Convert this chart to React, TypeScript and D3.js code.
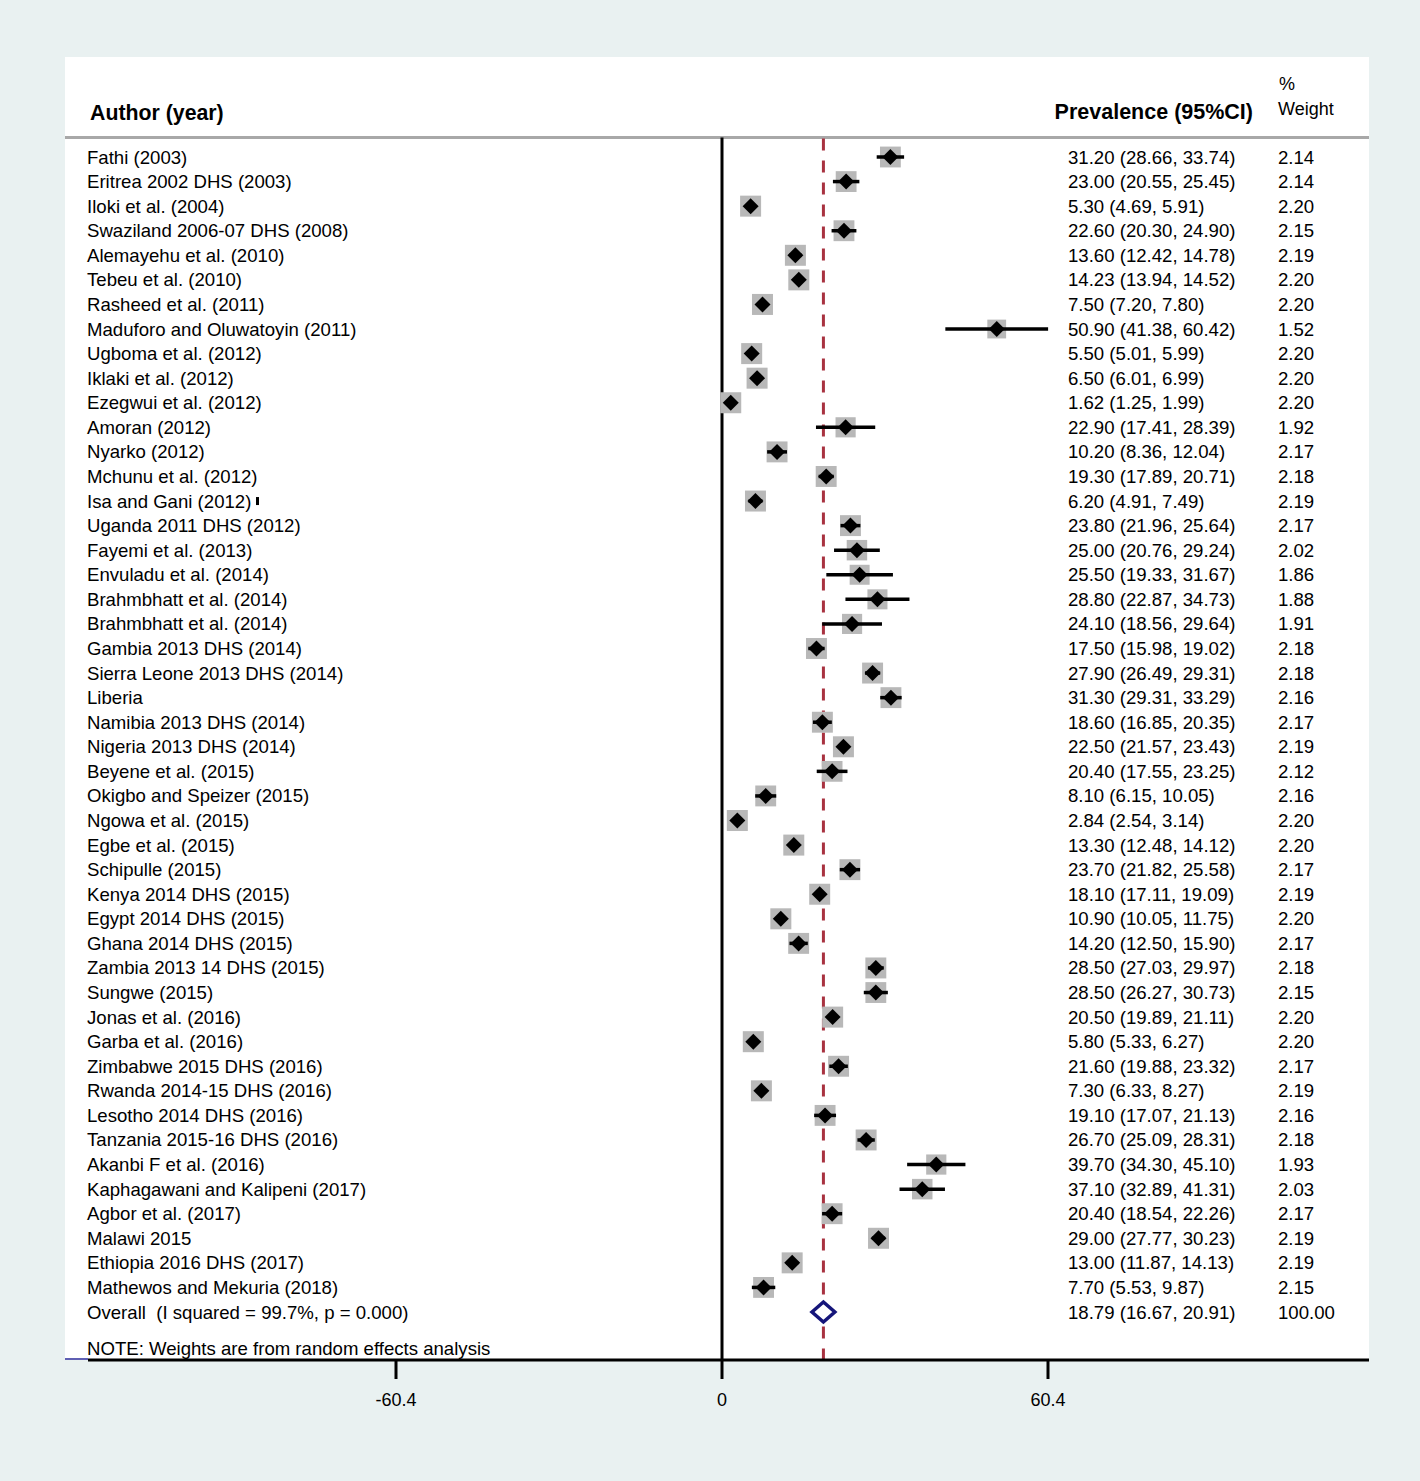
import React from "react";
import * as d3 from "d3";

const studies: string[] = [
  "Fathi (2003)", "Eritrea 2002 DHS (2003)", "Iloki et al. (2004)", "Swaziland 2006-07 DHS (2008)",
  "Alemayehu et al. (2010)", "Tebeu et al. (2010)", "Rasheed et al. (2011)", "Maduforo and Oluwatoyin (2011)",
  "Ugboma et al. (2012)", "Iklaki et al. (2012)", "Ezegwui et al. (2012)", "Amoran (2012)",
  "Nyarko (2012)", "Mchunu et al. (2012)", "Isa and Gani (2012)", "Uganda 2011 DHS (2012)",
  "Fayemi et al. (2013)", "Envuladu et al. (2014)", "Brahmbhatt et al. (2014)", "Brahmbhatt et al. (2014)",
  "Gambia 2013 DHS (2014)", "Sierra Leone 2013 DHS (2014)", "Liberia", "Namibia 2013 DHS (2014)",
  "Nigeria 2013 DHS (2014)", "Beyene et al. (2015)", "Okigbo and Speizer (2015)", "Ngowa et al. (2015)",
  "Egbe et al. (2015)", "Schipulle (2015)", "Kenya 2014 DHS (2015)", "Egypt 2014 DHS (2015)",
  "Ghana 2014 DHS (2015)", "Zambia 2013 14 DHS (2015)", "Sungwe (2015)", "Jonas et al. (2016)",
  "Garba et al. (2016)", "Zimbabwe 2015 DHS (2016)", "Rwanda 2014-15 DHS (2016)", "Lesotho 2014 DHS (2016)",
  "Tanzania 2015-16 DHS (2016)", "Akanbi F et al. (2016)", "Kaphagawani and Kalipeni (2017)", "Agbor et al. (2017)",
  "Malawi 2015", "Ethiopia 2016 DHS (2017)", "Mathewos and Mekuria (2018)",
];

const estimates: number[] = [
  31.2, 23.0, 5.3, 22.6, 13.6, 14.23, 7.5, 50.9, 5.5, 6.5, 1.62, 22.9, 10.2, 19.3, 6.2, 23.8,
  25.0, 25.5, 28.8, 24.1, 17.5, 27.9, 31.3, 18.6, 22.5, 20.4, 8.1, 2.84, 13.3, 23.7, 18.1, 10.9,
  14.2, 28.5, 28.5, 20.5, 5.8, 21.6, 7.3, 19.1, 26.7, 39.7, 37.1, 20.4, 29.0, 13.0, 7.7,
];
const lower: number[] = [
  28.66, 20.55, 4.69, 20.3, 12.42, 13.94, 7.2, 41.38, 5.01, 6.01, 1.25, 17.41, 8.36, 17.89, 4.91, 21.96,
  20.76, 19.33, 22.87, 18.56, 15.98, 26.49, 29.31, 16.85, 21.57, 17.55, 6.15, 2.54, 12.48, 21.82, 17.11, 10.05,
  12.5, 27.03, 26.27, 19.89, 5.33, 19.88, 6.33, 17.07, 25.09, 34.3, 32.89, 18.54, 27.77, 11.87, 5.53,
];
const upper: number[] = [
  33.74, 25.45, 5.91, 24.9, 14.78, 14.52, 7.8, 60.42, 5.99, 6.99, 1.99, 28.39, 12.04, 20.71, 7.49, 25.64,
  29.24, 31.67, 34.73, 29.64, 19.02, 29.31, 33.29, 20.35, 23.43, 23.25, 10.05, 3.14, 14.12, 25.58, 19.09, 11.75,
  15.9, 29.97, 30.73, 21.11, 6.27, 23.32, 8.27, 21.13, 28.31, 45.1, 41.31, 22.26, 30.23, 14.13, 9.87,
];
const weights: number[] = [
  2.14, 2.14, 2.2, 2.15, 2.19, 2.2, 2.2, 1.52, 2.2, 2.2, 2.2, 1.92, 2.17, 2.18, 2.19, 2.17,
  2.02, 1.86, 1.88, 1.91, 2.18, 2.18, 2.16, 2.17, 2.19, 2.12, 2.16, 2.2, 2.2, 2.17, 2.19, 2.2,
  2.17, 2.18, 2.15, 2.2, 2.2, 2.17, 2.19, 2.16, 2.18, 1.93, 2.03, 2.17, 2.19, 2.19, 2.15,
];

const overallLabel = "Overall  (I squared = 99.7%, p = 0.000)";
const overallEst = 18.79;
const overallLo = 16.67;
const overallHi = 20.91;
const overallWeight = 100.0;

const tickValues: number[] = [-60.4, 0, 60.4];

const W = 1420;
const H = 1481;
const FONT = "'Liberation Sans', Arial, Helvetica, sans-serif";

export default function App() {
  const x = d3.scaleLinear().domain([-60.4, 60.4]).range([396, 1048]);
  const nRows = studies.length + 1;
  const y = d3.scalePoint<number>().domain(d3.range(nRows)).range([157, 1312]);
  const boxSide = d3.scalePow().exponent(0.3).domain([0, 2.2]).range([0, 21]);
  const fmt = (v: number) => v.toFixed(2);

  const panelLeft = 65;
  const panelRight = 1369;
  const panelTop = 57;
  const axisY = 1360;
  const headerLineY = 137.5;
  const dm = 8;
  const fs = 18.6;

  const oy = y(studies.length)!;

  return (
    <div style={{ position: "absolute", left: 0, top: 0 }}>
      <svg width={W} height={H} style={{ display: "block" }} fontFamily={FONT}>
        <rect x={0} y={0} width={W} height={H} fill="#e9f1f1" />
        <rect x={panelLeft} y={panelTop} width={panelRight - panelLeft} height={axisY - panelTop} fill="#ffffff" />

        {/* header */}
        <text x={90} y={120} fontSize={21.3} fontWeight="bold" fill="#000">Author (year)</text>
        <text x={1253} y={119} fontSize={21.5} fontWeight="bold" fill="#000" textAnchor="end">Prevalence (95%CI)</text>
        <text x={1279} y={90} fontSize={18} fill="#000">%</text>
        <text x={1278} y={115} fontSize={18} fill="#000">Weight</text>
        <line x1={panelLeft} x2={panelRight} y1={headerLineY} y2={headerLineY} stroke="#a8a8a8" strokeWidth={3} />

        {/* zero line */}
        <line x1={x(0)} x2={x(0)} y1={headerLineY} y2={axisY} stroke="#000" strokeWidth={3} />
        {/* overall dashed line */}
        <line x1={x(overallEst)} x2={x(overallEst)} y1={headerLineY + 1} y2={axisY} stroke="#a83240" strokeWidth={3} strokeDasharray="12 10" />

        {studies.map((s, i) => {
          const cy = y(i)!;
          const cx = x(estimates[i]);
          const side = boxSide(weights[i]);
          return (
            <g key={i}>
              <text x={87} y={cy + 6.5} fontSize={fs} fill="#000">{s}</text>
              <rect x={cx - side / 2} y={cy - side / 2} width={side} height={side} fill="#b8b8b8" />
              <line x1={x(lower[i])} x2={x(upper[i])} y1={cy} y2={cy} stroke="#000" strokeWidth={3.5} />
              <path d={`M${cx - dm},${cy} L${cx},${cy - dm} L${cx + dm},${cy} L${cx},${cy + dm} Z`} fill="#000" />
              <text x={1068} y={cy + 6.5} fontSize={fs} fill="#000">
                {`${fmt(estimates[i])} (${fmt(lower[i])}, ${fmt(upper[i])})`}
              </text>
              <text x={1278} y={cy + 6.5} fontSize={fs} fill="#000">{fmt(weights[i])}</text>
            </g>
          );
        })}

        {/* small mark after Isa and Gani */}
        <rect x={256} y={y(14)! - 4} width={3} height={8} fill="#000" />

        {/* overall */}
        <text x={87} y={oy + 6.5} fontSize={fs} fill="#000" style={{ whiteSpace: "pre" }}>{overallLabel}</text>
        <path
          d={`M${x(overallLo)},${oy} L${x(overallEst)},${oy - 10} L${x(overallHi)},${oy} L${x(overallEst)},${oy + 10} Z`}
          fill="#ffffff"
          stroke="#15157a"
          strokeWidth={3.5}
        />
        <text x={1068} y={oy + 6.5} fontSize={fs} fill="#000">
          {`${fmt(overallEst)} (${fmt(overallLo)}, ${fmt(overallHi)})`}
        </text>
        <text x={1278} y={oy + 6.5} fontSize={fs} fill="#000">{fmt(overallWeight)}</text>

        <text x={87} y={1355} fontSize={fs} fill="#000">NOTE: Weights are from random effects analysis</text>

        {/* axis */}
        <line x1={panelLeft} x2={88} y1={axisY - 1} y2={axisY - 1} stroke="#2a2a9a" strokeWidth={1.5} />
        <line x1={88} x2={panelRight} y1={axisY} y2={axisY} stroke="#000" strokeWidth={3} />
        {tickValues.map((t) => (
          <g key={t}>
            <line x1={x(t)} x2={x(t)} y1={axisY} y2={axisY + 19} stroke="#000" strokeWidth={3} />
            <text x={x(t)} y={1406} fontSize={18} textAnchor="middle" fill="#000">{String(t)}</text>
          </g>
        ))}
      </svg>
    </div>
  );
}
